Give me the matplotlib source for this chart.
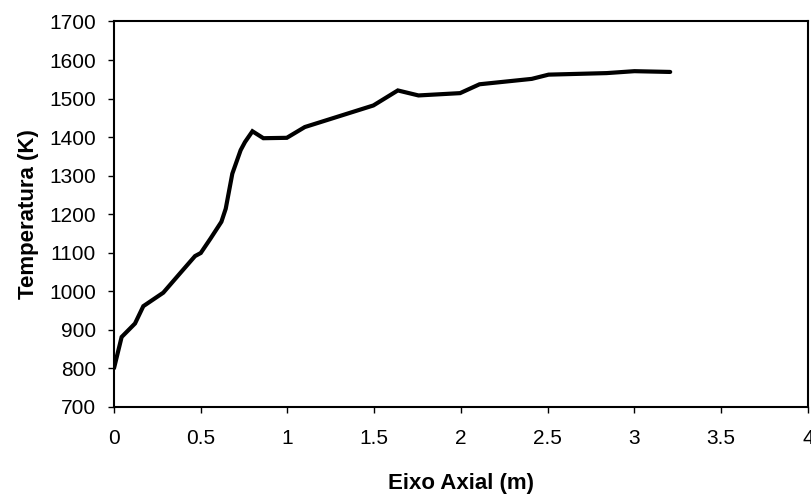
import matplotlib
matplotlib.use("Agg")
import matplotlib.pyplot as plt

# axial position (m) and temperature (K)
eixo_axial = [0.0, 0.044, 0.121, 0.169, 0.284, 0.38, 0.467, 0.5, 0.557, 0.619,
              0.644, 0.682, 0.73, 0.755, 0.798, 0.861, 0.996, 1.10, 1.495,
              1.636, 1.755, 1.995, 2.107, 2.408, 2.505, 2.84, 3.0, 3.206]
temperatura = [800, 881, 916, 961, 996, 1046, 1091, 1099, 1137, 1180,
               1214, 1305, 1366, 1387, 1415, 1397, 1398, 1426, 1482,
               1521, 1508, 1514, 1537, 1551, 1562, 1566, 1571, 1569]

x_ticks = [0, 0.5, 1, 1.5, 2, 2.5, 3, 3.5, 4]
x_tick_labels = ["0", "0.5", "1", "1.5", "2", "2.5", "3", "3.5", "4"]
y_ticks = list(range(700, 1701, 100))

plt.rcParams['font.family'] = ['Liberation Sans', 'DejaVu Sans']

fig = plt.figure(figsize=(8.12, 4.96), dpi=100)
ax = fig.add_axes([0.1404, 0.18, 0.8546, 0.7767])

ax.plot(eixo_axial, temperatura, color='black', linewidth=3,
        solid_joinstyle='miter', solid_capstyle='round')

ax.set_xlim(0, 4)
ax.set_ylim(700, 1700)
ax.set_xticks(x_ticks)
ax.set_xticklabels(x_tick_labels)
ax.set_yticks(y_ticks)

for side in ['left', 'bottom', 'top', 'right']:
    ax.spines[side].set_linewidth(1.5)
    ax.spines[side].set_color('black')

ax.tick_params(axis='x', direction='out', length=4, width=1, pad=12, labelsize=15)
ax.tick_params(axis='y', direction='out', length=4, width=1, pad=9, labelsize=15)

ax.set_xlabel('Eixo Axial (m)', fontsize=16, fontweight='bold', labelpad=18)
ax.set_ylabel('Temperatura (K)', fontsize=16, fontweight='bold', labelpad=7)

fig.savefig('out.png', dpi=100)
